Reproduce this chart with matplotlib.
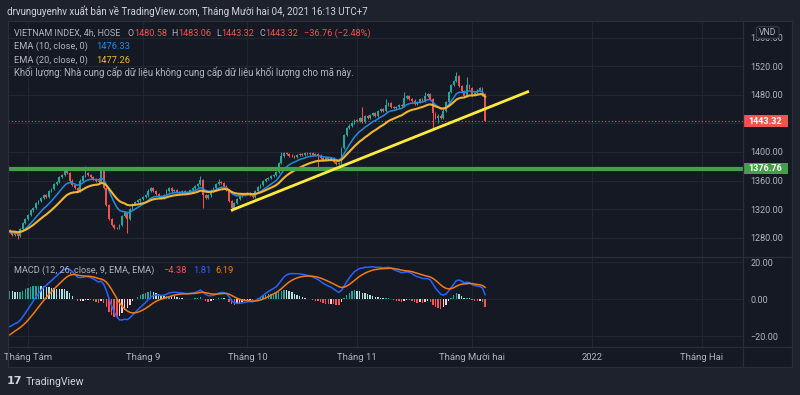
import numpy as np
import pandas as pd
import matplotlib
matplotlib.use("Agg")
import matplotlib.pyplot as plt
from matplotlib.patches import Rectangle, FancyBboxPatch
from matplotlib.lines import Line2D
import matplotlib.transforms as mtransforms

plt.rcParams['font.family'] = ['Roboto', 'DejaVu Sans']

# ---------------- data ----------------
closes = [
    1288, 1284, 1286, 1282, 1292, 1300, 1306, 1312, 1318, 1322,
    1329, 1331, 1336, 1339, 1337, 1345, 1348, 1355, 1358, 1365,
    1368, 1373, 1370, 1360, 1354, 1349, 1346, 1360, 1366, 1371,
    1368, 1365, 1362, 1360, 1358, 1376, 1350, 1326, 1306, 1298,
    1294, 1293, 1298, 1310, 1316, 1306, 1320, 1327, 1330, 1332,
    1334, 1337, 1339, 1346, 1349, 1345, 1341, 1338, 1336, 1340,
    1346, 1349, 1346, 1347, 1344, 1343, 1345, 1342, 1344, 1347,
    1349, 1352, 1355, 1361, 1340, 1336, 1339, 1346, 1349, 1355,
    1358, 1356, 1352, 1347, 1331, 1321, 1329, 1334, 1338, 1340,
    1341, 1343, 1340, 1337, 1345, 1351, 1354, 1359, 1362, 1364,
    1366, 1368, 1372, 1384, 1395, 1399, 1397, 1395, 1394, 1393,
    1396, 1397, 1396, 1398, 1397, 1399, 1396, 1397, 1395, 1391,
    1389, 1391, 1390, 1391, 1386, 1383, 1384, 1405, 1424, 1433,
    1437, 1441, 1445, 1443, 1447, 1442, 1450, 1447, 1452, 1455,
    1451, 1457, 1460, 1458, 1466, 1469, 1463, 1461, 1463, 1466,
    1464, 1476, 1478, 1474, 1472, 1467, 1470, 1474, 1472, 1478,
    1481, 1474, 1455, 1448, 1451, 1447, 1458, 1470, 1484, 1494,
    1500, 1506, 1492, 1485, 1478, 1494, 1489, 1480, 1483, 1486,
    1489, 1480.58, 1443.32,
]
first_open = 1290
# notable wicks (bar index -> price)
wick_highs = {21: 1378, 29: 1381, 35: 1378, 73: 1366, 80: 1362, 104: 1400,
              135: 1463, 144: 1474, 151: 1484, 159: 1484, 171: 1512,
              175: 1505, 182: 1483.06}
wick_lows = {3: 1278, 45: 1287, 74: 1322, 85: 1317, 118: 1375, 136: 1440,
             162: 1434, 164: 1441, 182: 1443.32}

ema10_seed, ema20_seed = 1287.0, 1289.0
ema12_seed, ema26_seed, signal_seed = 1289.0, 1305.0, -20.5

support_level = 1376.76
last_price = 1443.32
trend_x = [84.7, 198.8]
trend_y = [1318.0, 1485.0]

first_bar_day = "2021-07-27"
calendar_end = "2022-02-28"
holidays = ["2021-09-02", "2021-09-03"]
month_labels = ["Tháng Tám", "Tháng 9", "Tháng 10", "Tháng 11",
                "Tháng Mười hai", "2022", "Tháng Hai"]
price_ticks = [1280, 1320, 1360, 1400, 1440, 1480, 1520, 1560]
macd_ticks = [-20, 0, 20]

header = "drvunguyenhv xuất bản về TradingView.com, Tháng Mười hai 04, 2021 16:13 UTC+7"
symbol_text = "VIETNAM INDEX, 4h, HOSE"
ohlc_letters = ["O", "H", "L", "C"]
legend_vals = ["1480.58", "1483.06", "1443.32", "1443.32"]
change_text = "−36.76 (−2.48%)"
ema_names = ["EMA (10, close, 0)", "EMA (20, close, 0)"]
ema_vals = ["1476.33", "1477.26"]
macd_name = "MACD (12, 26, close, 9, EMA, EMA)"
macd_vals = ["−4.38", "1.81", "6.19"]
volume_note = "Khối lượng: Nhà cung cấp dữ liệu không cung cấp dữ liệu khối lượng cho mã này."

# ---------------- styles ----------------
W, H = 800, 395
def fx(x): return x / W
def fy(y): return 1 - y / H

BG_OUT = '#1e222d'
BG_PANE = '#151924'
GRID = '#222632'
SEP = '#2a2e39'
TXT = '#b2b5be'
UP = '#26a69a'
DOWN = '#ef5350'
C_EMA10 = '#2389e0'
C_EMA20 = '#f2b530'
C_MACD = '#2962ff'
C_SIG = '#f07a16'
GREEN = '#43a047'
YELLOW = '#ffeb3b'

# ---------------- derived series ----------------
c = np.array(closes, dtype=float)
n = len(c)
o = np.r_[first_open, c[:-1]]
hi = np.maximum(o, c) + 1.5
lo = np.minimum(o, c) - 1.5
for k, v in wick_highs.items():
    hi[k] = v
for k, v in wick_lows.items():
    lo[k] = v
idx = np.arange(n)

def ema(vals, seed, period):
    a = 2.0 / (period + 1)
    out, prev = [], seed
    for v in vals:
        prev = prev + a * (v - prev)
        out.append(prev)
    return np.array(out)

e10 = ema(c, ema10_seed, 10)
e20 = ema(c, ema20_seed, 20)
macd = ema(c, ema12_seed, 12) - ema(c, ema26_seed, 26)
sig = ema(macd, signal_seed, 9)
hist = macd - sig
hcol = []
for k in range(n):
    prev = hist[k - 1] if k > 0 else hist[k]
    if hist[k] >= 0:
        hcol.append('#26a69a' if hist[k] >= prev else '#b2dfdb')
    else:
        hcol.append('#ff5252' if hist[k] < prev else '#ffcdd2')

days = pd.bdate_range(first_bar_day, calendar_end)
days = days[~days.isin(pd.to_datetime(holidays))]
bar_days = pd.DatetimeIndex(np.repeat(days.values, 2))[1:]
mkeys = bar_days.year * 12 + bar_days.month
month_pos = [i for i in range(1, len(bar_days)) if mkeys[i] != mkeys[i - 1]]

# ---------------- figure ----------------
fig = plt.figure(figsize=(8, 3.95), dpi=100, facecolor=BG_OUT)
fig.add_artist(Rectangle((fx(7.5), fy(366.7)), fx(791.7) - fx(7.5), fy(21) - fy(366.7),
                         transform=fig.transFigure, facecolor=BG_PANE,
                         edgecolor='none', zorder=-5))

ax = fig.add_axes([fx(7.5), fy(256.5), fx(743.3) - fx(7.5), fy(21) - fy(256.5)])
ax2 = fig.add_axes([fx(7.5), fy(346.7), fx(743.3) - fx(7.5), fy(256.5) - fy(346.7)],
                   sharex=ax)
for a in (ax, ax2):
    a.set_facecolor(BG_PANE)
    for s in a.spines.values():
        s.set_visible(False)
    a.yaxis.tick_right()
    a.tick_params(axis='y', length=0, pad=5.3, labelsize=6.5, labelcolor=TXT)
    a.tick_params(axis='x', length=0)
    a.set_axisbelow(True)
    a.grid(True, color=GRID, lw=0.8)
    a.set_xticks(month_pos)

ax.set_xlim((7.5 - 9.7) / 2.612, (743.3 - 9.7) / 2.612)
ax.set_ylim(1520 - (256.5 - 66.3) / 0.7138, 1520 + (66.3 - 21) / 0.7138)
ax.set_yticks(price_ticks)
# the 1440 label sits under the last-price box, as in the reference
ax.set_yticklabels(["" if abs(t - last_price) < 10 else f"{t:.2f}" for t in price_ticks])
ax.tick_params(axis='x', labelbottom=False)

ax2.set_ylim(-(346.7 - 299.15) / 1.8425, (299.15 - 256.5) / 1.8425)
ax2.set_yticks(macd_ticks)
ax2.set_yticklabels([f"{t:.2f}".replace('-', '−') for t in macd_ticks])
ax2.set_xticklabels(month_labels)
ax2.tick_params(axis='x', pad=4.8, labelsize=6.8, labelcolor=TXT)

# candles
cols = np.where(c >= o, UP, DOWN)
ax.vlines(idx, lo, hi, colors=cols, lw=0.75, zorder=3)
ax.bar(idx, np.maximum(np.abs(c - o), 0.8), bottom=np.minimum(o, c), width=0.68,
       color=cols, linewidth=0, zorder=4)
ax.plot(idx, e10, color=C_EMA10, lw=1.1, zorder=5)
ax.plot(idx, e20, color=C_EMA20, lw=1.5, zorder=5)
ax.axhline(support_level, color=GREEN, lw=3.0, zorder=6)
ax.plot(trend_x, trend_y, color=YELLOW, lw=2.0, zorder=7, solid_capstyle='butt')
ax.axhline(last_price, color=DOWN, lw=0.8, ls=(0, (1, 2)), zorder=2)

# MACD
ax2.bar(idx, hist, width=0.55, color=hcol, linewidth=0, zorder=3)
ax2.plot(idx, macd, color=C_MACD, lw=1.1, zorder=4)
ax2.plot(idx, sig, color=C_SIG, lw=1.1, zorder=4)

# price boxes on the axis
blend = mtransforms.blended_transform_factory(fig.transFigure, ax.transData)
for price, colr in ((last_price, '#f05350'), (support_level, GREEN)):
    ax.add_patch(Rectangle((fx(742.7), price - 8.1), fx(788.3) - fx(742.7), 16.2,
                           transform=blend, facecolor=colr, edgecolor='none',
                           clip_on=False, zorder=10))
    ax.text(fx(765.5), price, f"{price:.2f}", transform=blend, ha='center',
            va='center', color='white', fontsize=6.5, fontweight='bold',
            zorder=11, clip_on=False)

# VND box
fig.add_artist(FancyBboxPatch((fx(756.5), fy(38.3)), fx(779) - fx(756.5), fy(26.7) - fy(38.3),
                              boxstyle="round,pad=0,rounding_size=0.004",
                              transform=fig.transFigure, facecolor=BG_PANE,
                              edgecolor='#3a3e4a', lw=0.8, zorder=5))
fig.text(fx(767.8), fy(32.6), "VND", ha='center', va='center', color=TXT,
         fontsize=6.2, zorder=6)

# separator lines
for y in (21, 256.5, 346.7, 366.7):
    fig.add_artist(Line2D([fx(7.5), fx(791.7)], [fy(y), fy(y)], color=SEP, lw=0.9,
                          transform=fig.transFigure))
for x in (7.5, 743.3, 791.7):
    fig.add_artist(Line2D([fx(x), fx(x)], [fy(21), fy(366.7)], color=SEP, lw=0.9,
                          transform=fig.transFigure))

# texts (placed on baselines, sequential pieces measured with the renderer)
renderer = fig.canvas.get_renderer()
def put(x, yc, s, col, size):
    t = fig.text(fx(x), fy(yc + 0.36 * size * 1.389), s, color=col, fontsize=size,
                 va='baseline', ha='left')
    return x + t.get_window_extent(renderer).width

put(7.3, 11.7, header, '#d1d4dc', 7.0)
ly = 32.9
put(14, ly, symbol_text, TXT, 6.4)
for letter, val, xs in zip(ohlc_letters, legend_vals, (127.7, 171.7, 216.0, 259.3)):
    xe = put(xs, ly, letter, TXT, 6.4)
    put(xe + 0.3, ly, val, DOWN, 6.6)
put(303.7, ly, change_text, DOWN, 6.6)
put(14, 46, ema_names[0], TXT, 6.7)
put(95.7, 46, ema_vals[0], C_EMA10, 6.7)
put(14, 59.5, ema_names[1], TXT, 6.7)
put(95.7, 59.5, ema_vals[1], C_EMA20, 6.7)
put(14, 72.5, volume_note, TXT, 6.85)

put(14, 269.3, macd_name, TXT, 6.6)
put(163.3, 269.3, macd_vals[0], '#ff5252', 6.7)
put(192.7, 269.3, macd_vals[1], C_MACD, 6.7)
put(215.7, 269.3, macd_vals[2], C_SIG, 6.7)

# footer logo
fig.text(fx(7), fy(381), "17", color='#d1d4dc', fontsize=8, fontweight='heavy',
         va='center', family=['DejaVu Sans'])
put(25.5, 381, "TradingView", '#d1d4dc', 7.6)

fig.savefig("out.png", dpi=100, facecolor=BG_OUT)
